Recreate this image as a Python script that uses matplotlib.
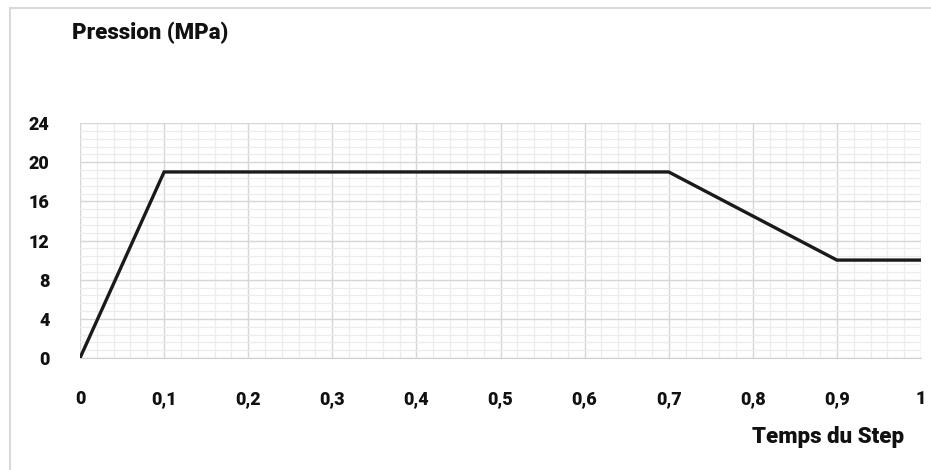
import matplotlib.pyplot as plt
from matplotlib.lines import Line2D
from matplotlib.ticker import MultipleLocator
import numpy as np

# data
temps = [0, 0.1, 0.7, 0.9, 1.0]
pression = [0, 19, 19, 10, 10]

x_ticks = [0, 0.1, 0.2, 0.3, 0.4, 0.5, 0.6, 0.7, 0.8, 0.9, 1.0]
x_labels = ['0', '0,1', '0,2', '0,3', '0,4', '0,5', '0,6', '0,7', '0,8', '0,9', '1']
y_ticks = [0, 4, 8, 12, 16, 20, 24]

plt.rcParams['font.family'] = ['Roboto', 'DejaVu Sans']

W, H = 931, 470
fig = plt.figure(figsize=(W / 100, H / 100), dpi=100)
ax = fig.add_axes([80 / W, (H - 358) / H, (921 - 80) / W, (358 - 123) / H])

ax.plot(temps, pression, color='#1a1a1a', linewidth=2.4, solid_joinstyle='miter', zorder=3)

ax.set_xlim(0, 1)
ax.set_ylim(0, 24)
ax.set_xticks(x_ticks)
ax.set_xticklabels(x_labels)
ax.set_yticks(y_ticks)
ax.xaxis.set_minor_locator(MultipleLocator(0.02))
ax.yaxis.set_minor_locator(MultipleLocator(0.8))

ax.grid(which='major', color='#d6d6d6', linewidth=1.0)
ax.grid(which='minor', color='#ececec', linewidth=0.9)
ax.set_axisbelow(True)

for s in ['top', 'right', 'left']:
    ax.spines[s].set_visible(False)
ax.spines['bottom'].set_color('#d0d0d0')

ax.tick_params(which='both', length=0)
ax.tick_params(axis='y', pad=22)
ax.tick_params(axis='x', pad=23)
for lab in ax.get_xticklabels() + ax.get_yticklabels():
    lab.set_fontweight('black')
    lab.set_fontsize(13)
    lab.set_color('#111111')

fig.text(72 / W, 1 - 33 / H, 'Pression (MPa)', fontsize=16, fontweight='black',
         color='#111111', ha='left', va='center')
fig.text(904 / W, 1 - 437 / H, 'Temps du Step', fontsize=16, fontweight='black',
         color='#111111', ha='right', va='center')

# light outer frame (left and top only)
fig.add_artist(Line2D([10 / W, 10 / W], [0, 1 - 8 / H], transform=fig.transFigure,
                      color='#d9d9d9', linewidth=1.5))
fig.add_artist(Line2D([10 / W, 1], [1 - 8 / H, 1 - 8 / H], transform=fig.transFigure,
                      color='#d9d9d9', linewidth=1.5))

fig.savefig('out.png', dpi=100, facecolor='white')
